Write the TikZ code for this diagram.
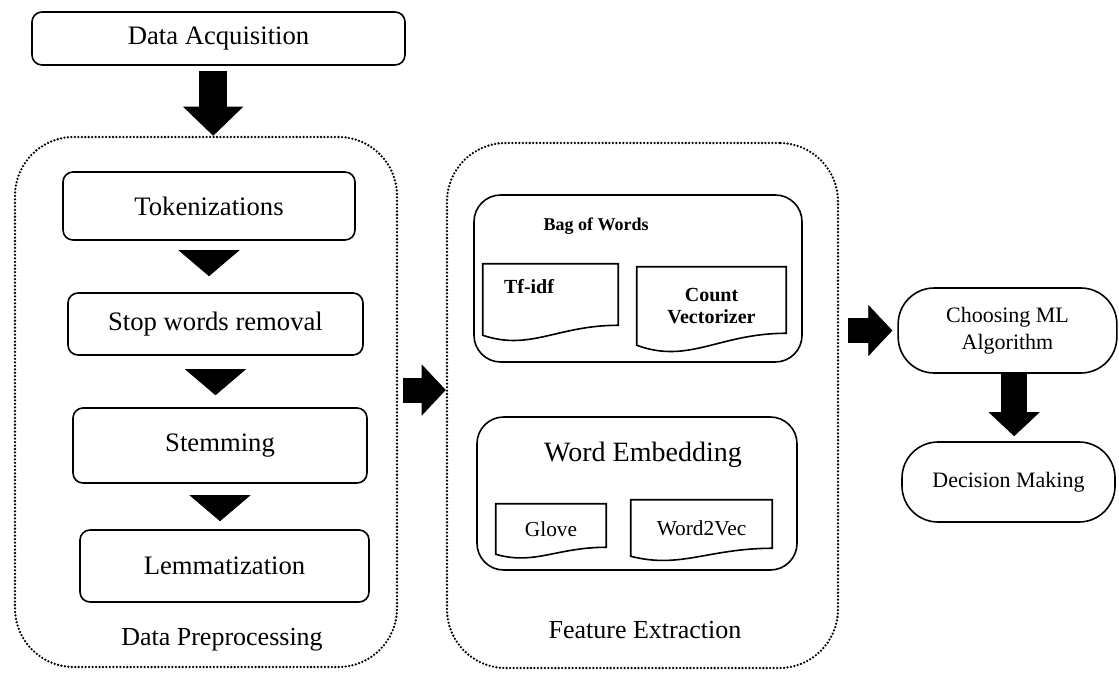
\documentclass[tikz,border=0pt]{standalone}
\usepackage{fontspec}
\setmainfont{Liberation Serif}
\usetikzlibrary{arrows.meta,calc}

% outline of a document shape round a node, #2 = rise of the right corner
\newcommand\drawdoc[2]{%
  \draw[docline] (#1.north west) -- (#1.north east) -- ([yshift=#2]#1.south east)
    .. controls ($(#1.south west)!0.55!(#1.south east)+(0,#2)$)
    and ($(#1.south west)!0.35!(#1.south east)-(0,1.6*#2)$) .. (#1.south west) -- cycle;}

\tikzset{
  stepbox/.style={draw, line width=1.2pt, rounded corners=7.5pt, inner sep=0pt,
    font=\fontsize{20}{24}\selectfont},
  pill/.style={draw, line width=1.2pt, rounded corners=27pt, inner sep=0pt, align=center,
    font=\fontsize{16.5}{20}\selectfont},
  group/.style={draw, line width=1.2pt, rounded corners=20pt, inner sep=0pt},
  stage/.style={draw, line width=1.9pt, dash pattern=on 0pt off 2.6pt, line cap=round,
    rounded corners=44pt, inner sep=0pt},
  stagelabel/.style={font=\fontsize{19.5}{23}\selectfont},
  doc/.style={inner sep=0pt, align=center, font=\bfseries\fontsize{15}{16}\selectfont},
  docline/.style={line width=1.2pt},
  fatdown/.style={line width=21pt, -{Triangle[length=21.75pt,width=45pt,line width=0.5pt]}},
  fatarrow/.style={line width=18.75pt, -{Triangle[length=18pt,width=38.25pt,line width=0.5pt]}},
  tri/.style={line width=0.2pt, -{Triangle[length=19.5pt,width=45.75pt,line width=0.5pt]}}
}

\begin{document}
\begin{tikzpicture}[x=0.75pt,y=-0.75pt]
  \useasboundingbox (0,0) rectangle (1119,675);

  % the two dotted stages
  \node[stage, minimum width=286.5pt, minimum height=397.5pt] (prep) at (206,402) {};
  \node[stage, minimum width=293.25pt, minimum height=393.75pt] (feat) at (642.5,405.5) {};
  \node[stagelabel] (preplbl) at (222,640) {Data Preprocessing};
  \node[stagelabel] (featlbl) at (645,630) {Feature Extraction};

  % left column
  \node[stepbox, minimum width=279.75pt, minimum height=39.75pt] (acq)   at (218.5,38.5) {Data Acquisition};
  \node[stepbox, minimum width=219pt,    minimum height=51pt]    (tok)   at (209,206)    {Tokenizations};
  \node[stepbox, minimum width=221.25pt, minimum height=46.5pt]  (stop)  at (215.5,324)  {Stop words removal};
  \node[stepbox, minimum width=220.5pt,  minimum height=56.25pt] (stem)  at (220,445.5)  {Stemming};
  \node[stepbox, minimum width=216.75pt, minimum height=54pt]    (lemma) at (224.5,566)  {Lemmatization};

  \draw[tri, shorten <=8.25pt, shorten >=12pt] (tok.south) -- (tok.south |- stop.north);
  \draw[tri, shorten <=11.25pt, shorten >=9pt] (stop.south) -- (stop.south |- stem.north);
  \draw[tri, shorten <=9.75pt, shorten >=6pt] (stem.south) -- (stem.south |- lemma.north);

  % features
  \node[group, minimum width=246pt, minimum height=125.25pt] (bag) at (638,278.5) {};
  \node[font=\bfseries\fontsize{13.5}{15}\selectfont] (bagtitle) at (596,226) {Bag of Words};
  \node[doc, minimum width=101.25pt, minimum height=53.25pt] (tfidf) at (550.5,299.5) {};
  \node[doc] (tfidflbl) at (529,287) {Tf-idf};
  \node[doc, minimum width=111.75pt, minimum height=58.5pt] (count) at (711.5,306) {Count\\Vectorizer};
  \drawdoc{tfidf}{7.5pt}
  \drawdoc{count}{9pt}

  \node[group, minimum width=240pt, minimum height=114.75pt] (embed) at (637,493.5) {};
  \node[font=\fontsize{21}{25}\selectfont] (embedtitle) at (643,455) {Word Embedding};
  \node[doc, font=\fontsize{16}{18}\selectfont, minimum width=82.5pt, minimum height=37.5pt] (glove) at (551,529) {Glove};
  \node[doc, font=\fontsize{16}{18}\selectfont, minimum width=105.75pt, minimum height=42pt] (w2v) at (701.5,528) {Word2Vec};
  \drawdoc{glove}{5.25pt}
  \drawdoc{w2v}{6pt}

  % right column
  \node[pill, minimum width=164pt, minimum height=63.75pt] (choose) at (1007.5,330.5) {Choosing ML\\Algorithm};
  \node[pill, minimum width=159.75pt, minimum height=60pt] (decide) at (1008.5,482) {Decision Making};

  % block arrows
  \draw[fatdown, shorten <=3.75pt] ([xshift=-4pt]acq.south) -- ([xshift=-4pt]acq.south |- prep.north);
  \draw[fatarrow, shorten <=3.75pt] ([yshift=9pt]prep.east) -- ([yshift=9pt]prep.east -| feat.west);
  \draw[fatarrow, shorten <=6.75pt, shorten >=3.75pt] (feat.east |- choose.west) -- (choose.west);
  \draw[fatarrow, line width=19.5pt, shorten >=3.75pt] ([xshift=5pt]choose.south) -- ([xshift=5pt]choose.south |- decide.north);

\end{tikzpicture}
\end{document}
